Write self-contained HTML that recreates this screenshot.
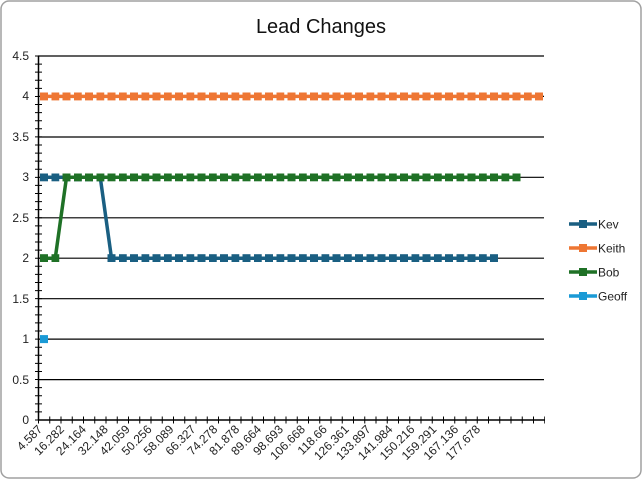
<!DOCTYPE html>
<html><head><meta charset="utf-8"><style>
html,body{margin:0;padding:0;background:#fff;}
svg{display:block;font-family:"Liberation Sans",sans-serif;}
</style></head><body>
<svg width="642" height="480" viewBox="0 0 642 480" xmlns="http://www.w3.org/2000/svg">
<defs>
<marker id="mk" viewBox="0 0 6 6" refX="3" refY="3" markerWidth="8" markerHeight="8" markerUnits="userSpaceOnUse"><rect width="6" height="6" fill="#1a5f82"/></marker>
<marker id="mo" viewBox="0 0 6 6" refX="3" refY="3" markerWidth="8" markerHeight="8" markerUnits="userSpaceOnUse"><rect width="6" height="6" fill="#ee7633"/></marker>
<marker id="mg" viewBox="0 0 6 6" refX="3" refY="3" markerWidth="8" markerHeight="8" markerUnits="userSpaceOnUse"><rect width="6" height="6" fill="#1f7126"/></marker>
</defs>
<rect x="1" y="1" width="640" height="477" rx="8" fill="#fff" stroke="#a0a0a0" stroke-width="1.5"/>
<text x="321" y="33" font-size="20" text-anchor="middle" fill="#111">Lead Changes</text>
<g stroke="#000" stroke-width="1.2">
<line x1="38" y1="56" x2="544" y2="56"/>
<line x1="38" y1="96.4" x2="544" y2="96.4"/>
<line x1="38" y1="137" x2="544" y2="137"/>
<line x1="38" y1="177.3" x2="544" y2="177.3"/>
<line x1="38" y1="217.8" x2="544" y2="217.8"/>
<line x1="38" y1="258.2" x2="544" y2="258.2"/>
<line x1="38" y1="298.7" x2="544" y2="298.7"/>
<line x1="38" y1="339.1" x2="544" y2="339.1"/>
<line x1="38" y1="379.6" x2="544" y2="379.6"/>
<line x1="38" y1="420" x2="544.6" y2="420" stroke-width="1.5"/>
<line x1="38.5" y1="56" x2="38.5" y2="420" stroke-width="1.5"/>
</g>
<line x1="38.5" y1="420.5" x2="38.5" y2="55" stroke="#000" stroke-width="7" stroke-dasharray="1 7.089"/>
<line x1="38" y1="420" x2="545" y2="420" stroke="#000" stroke-width="7" stroke-dasharray="1 10.25" stroke-dashoffset="0"/>
<g font-size="12" fill="#222" text-anchor="end">
<text x="29" y="424">0</text><text x="29" y="384">0.5</text><text x="29" y="343">1</text><text x="29" y="303">1.5</text><text x="29" y="262">2</text><text x="29" y="222">2.5</text><text x="29" y="181">3</text><text x="29" y="141">3.5</text><text x="29" y="100">4</text><text x="29" y="60">4.5</text>
</g>
<g font-size="12" fill="#222" text-anchor="end">
<text transform="translate(43,430) rotate(-45)">4.587</text>
<text transform="translate(64.9,430) rotate(-45)">16.282</text>
<text transform="translate(86.8,430) rotate(-45)">24.164</text>
<text transform="translate(108.7,430) rotate(-45)">32.148</text>
<text transform="translate(130.6,430) rotate(-45)">42.059</text>
<text transform="translate(152.5,430) rotate(-45)">50.256</text>
<text transform="translate(174.4,430) rotate(-45)">58.089</text>
<text transform="translate(196.3,430) rotate(-45)">66.327</text>
<text transform="translate(218.2,430) rotate(-45)">74.278</text>
<text transform="translate(240.1,430) rotate(-45)">81.878</text>
<text transform="translate(262,430) rotate(-45)">89.664</text>
<text transform="translate(283.9,430) rotate(-45)">98.693</text>
<text transform="translate(305.8,430) rotate(-45)">106.668</text>
<text transform="translate(327.7,430) rotate(-45)">118.66</text>
<text transform="translate(349.6,430) rotate(-45)">126.361</text>
<text transform="translate(371.5,430) rotate(-45)">133.897</text>
<text transform="translate(393.4,430) rotate(-45)">141.984</text>
<text transform="translate(415.3,430) rotate(-45)">150.216</text>
<text transform="translate(437.2,430) rotate(-45)">159.291</text>
<text transform="translate(459.1,430) rotate(-45)">167.136</text>
<text transform="translate(481,430) rotate(-45)">177.678</text>
</g>
<g fill="none" stroke-width="3.5" stroke-linejoin="round">
<polyline stroke="#1a5f82" marker-start="url(#mk)" marker-mid="url(#mk)" marker-end="url(#mk)" points="44,177.3 55.25,177.3 66.5,177.3 77.75,177.3 89,177.3 100.25,177.3 111.5,258.2 122.75,258.2 134,258.2 145.25,258.2 156.5,258.2 167.75,258.2 179,258.2 190.25,258.2 201.5,258.2 212.75,258.2 224,258.2 235.25,258.2 246.5,258.2 257.75,258.2 269,258.2 280.25,258.2 291.5,258.2 302.75,258.2 314,258.2 325.25,258.2 336.5,258.2 347.75,258.2 359,258.2 370.25,258.2 381.5,258.2 392.75,258.2 404,258.2 415.25,258.2 426.5,258.2 437.75,258.2 449,258.2 460.25,258.2 471.5,258.2 482.75,258.2 494,258.2"/>
<polyline stroke="#ee7633" marker-start="url(#mo)" marker-mid="url(#mo)" marker-end="url(#mo)" points="44,96.4 55.25,96.4 66.5,96.4 77.75,96.4 89,96.4 100.25,96.4 111.5,96.4 122.75,96.4 134,96.4 145.25,96.4 156.5,96.4 167.75,96.4 179,96.4 190.25,96.4 201.5,96.4 212.75,96.4 224,96.4 235.25,96.4 246.5,96.4 257.75,96.4 269,96.4 280.25,96.4 291.5,96.4 302.75,96.4 314,96.4 325.25,96.4 336.5,96.4 347.75,96.4 359,96.4 370.25,96.4 381.5,96.4 392.75,96.4 404,96.4 415.25,96.4 426.5,96.4 437.75,96.4 449,96.4 460.25,96.4 471.5,96.4 482.75,96.4 494,96.4 505.25,96.4 516.5,96.4 527.75,96.4 539,96.4"/>
<polyline stroke="#1f7126" marker-start="url(#mg)" marker-mid="url(#mg)" marker-end="url(#mg)" points="44,258.2 55.25,258.2 66.5,177.3 77.75,177.3 89,177.3 100.25,177.3 111.5,177.3 122.75,177.3 134,177.3 145.25,177.3 156.5,177.3 167.75,177.3 179,177.3 190.25,177.3 201.5,177.3 212.75,177.3 224,177.3 235.25,177.3 246.5,177.3 257.75,177.3 269,177.3 280.25,177.3 291.5,177.3 302.75,177.3 314,177.3 325.25,177.3 336.5,177.3 347.75,177.3 359,177.3 370.25,177.3 381.5,177.3 392.75,177.3 404,177.3 415.25,177.3 426.5,177.3 437.75,177.3 449,177.3 460.25,177.3 471.5,177.3 482.75,177.3 494,177.3 505.25,177.3 516.5,177.3"/>
</g>
<rect x="40" y="335.1" width="8" height="8" fill="#1a9ad6"/>
<g stroke-width="3.5">
<line x1="569" y1="224" x2="597" y2="224" stroke="#1a5f82"/><rect x="579" y="220" width="8" height="8" fill="#1a5f82"/>
<line x1="569" y1="248" x2="597" y2="248" stroke="#ee7633"/><rect x="579" y="244" width="8" height="8" fill="#ee7633"/>
<line x1="569" y1="272" x2="597" y2="272" stroke="#1f7126"/><rect x="579" y="268" width="8" height="8" fill="#1f7126"/>
<line x1="569" y1="296" x2="597" y2="296" stroke="#1a9ad6"/><rect x="579" y="292" width="8" height="8" fill="#1a9ad6"/>
</g>
<g font-size="12" fill="#222">
<text x="598" y="228.5">Kev</text><text x="598" y="252.5">Keith</text><text x="598" y="276.5">Bob</text><text x="598" y="300.5">Geoff</text>
</g>
</svg>
</body></html>
